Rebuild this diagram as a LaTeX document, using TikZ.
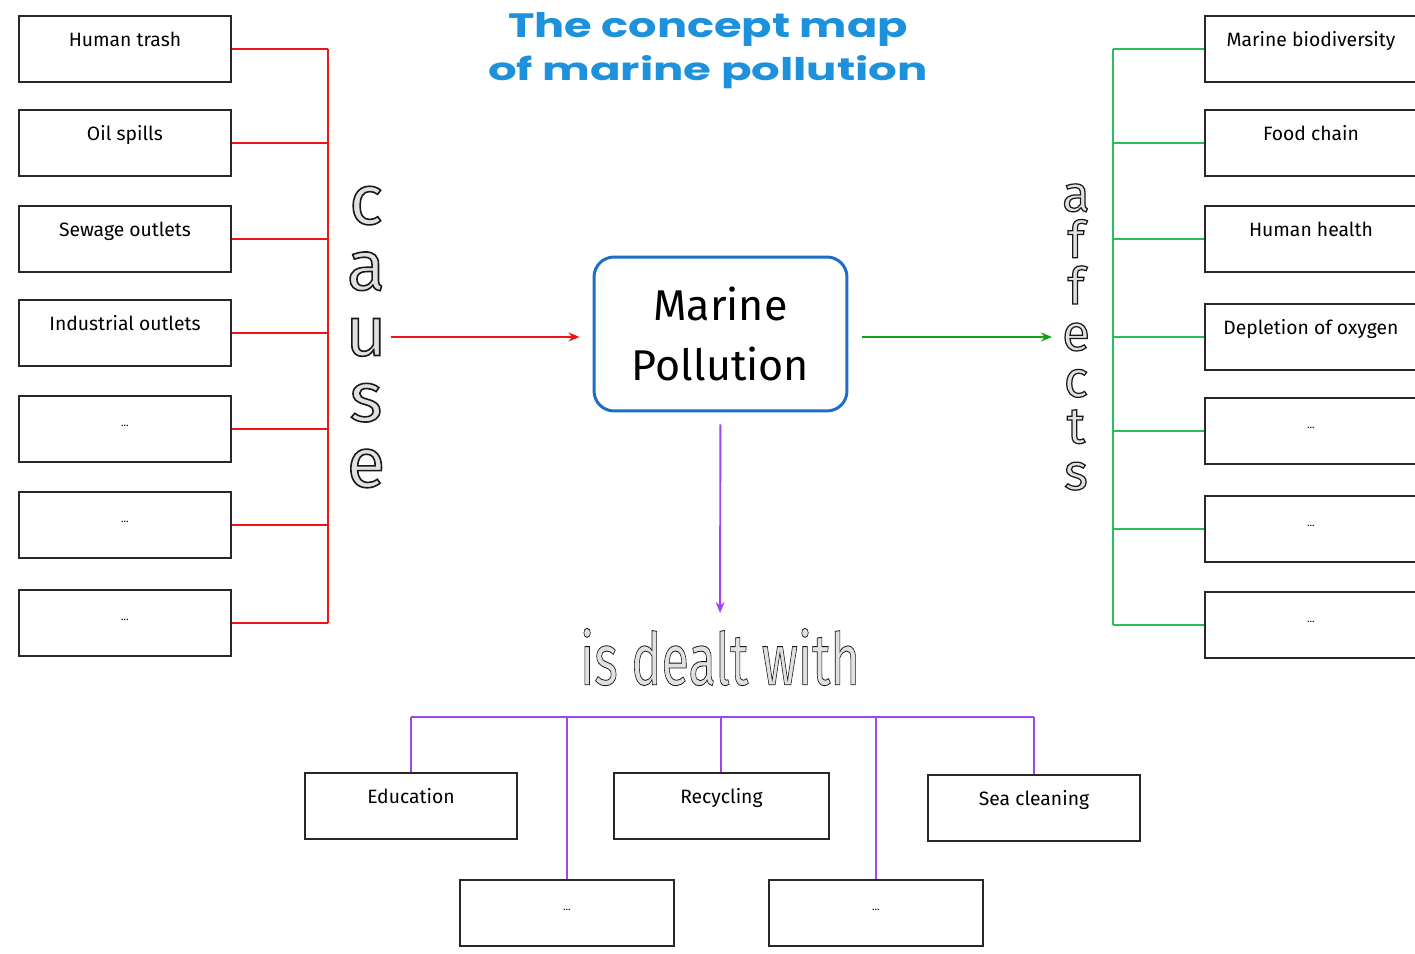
\documentclass[tikz,border=0pt]{standalone}
\usepackage{fontspec}
\usepackage{graphicx}
\setmainfont{Fira Sans}
\newfontfamily\titlefont{Poppins}
\usetikzlibrary{arrows.meta}
\definecolor{causered}{RGB}{240,20,20}
\definecolor{effgreen}{RGB}{40,190,90}
\definecolor{arrgreen}{RGB}{20,160,20}
\definecolor{dealpurple}{RGB}{160,70,240}
\definecolor{mainblue}{RGB}{30,110,200}
\definecolor{titleblue}{RGB}{30,145,220}
\definecolor{boxline}{RGB}{40,40,40}
\definecolor{hollowfill}{RGB}{225,225,225}
% hollow letters: light fill, dark outline
\newcommand{\outl}[2][0.7]{{\color{hollowfill}\special{pdf:literal direct 2 Tr #1 w 0.1 0.1 0.1 RG}#2\special{pdf:literal direct 0 Tr}}}
\begin{document}
\begin{tikzpicture}[x=0.02cm,y=-0.02cm,
  cbox/.style={draw=boxline, line width=1.1pt, minimum width=4.24cm, inner xsep=2pt, inner ysep=0pt,
    text height=0.62cm, text depth=0.70cm, font=\fontsize{11}{13}\selectfont, anchor=north west},
  ebox/.style={cbox, font=\fontsize{6}{7}\selectfont},
  redline/.style={draw=causered, line width=1.1pt},
  greenline/.style={draw=effgreen, line width=1.1pt},
  purpleline/.style={draw=dealpurple, line width=1.1pt},
  arrowtip/.style={-{Stealth[length=0.22cm,width=0.18cm]}},
  vert/.style={align=center, inner sep=1pt}
]
\useasboundingbox[fill=white] (0,0) rectangle (1415,953);

% title
\node[inner sep=0pt, text=titleblue, anchor=base] (t1) at (708,38) {\resizebox{8.0cm}{0.5cm}{\titlefont\bfseries The concept map}};
\node[inner sep=0pt, text=titleblue, anchor=base] (t2) at (708,80) {\resizebox{8.8cm}{0.5cm}{\titlefont\bfseries of marine pollution}};

% central node
\node[draw=mainblue, line width=1.7pt, rounded corners=0.4cm, minimum width=5.06cm, minimum height=3.08cm,
  align=center, font=\fontsize{24.5}{34.6}\selectfont] (mp) at (720.5,334) {Marine\\Pollution};

% cause boxes
\node[cbox] (l1) at (18,15) {Human trash};
\node[cbox] (l2) at (18,109) {Oil spills};
\node[cbox] (l3) at (18,205) {Sewage outlets};
\node[cbox] (l4) at (18,299) {Industrial outlets};
\node[ebox] (l5) at (18,395) {...};
\node[ebox] (l6) at (18,491) {...};
\node[ebox] (l7) at (18,589) {...};

% effect boxes
\node[cbox] (r1) at (1204,15) {Marine biodiversity};
\node[cbox] (r2) at (1204,109) {Food chain};
\node[cbox] (r3) at (1204,205) {Human health};
\node[cbox] (r4) at (1204,303) {Depletion of oxygen};
\node[ebox] (r5) at (1204,397) {...};
\node[ebox] (r6) at (1204,495) {...};
\node[ebox] (r7) at (1204,591) {...};

% dealt with boxes
\node[cbox] (b1) at (304,772) {Education};
\node[cbox, minimum width=4.3cm] (b2) at (613,772) {Recycling};
\node[cbox] (b3) at (927,774) {Sea cleaning};
\node[ebox, minimum width=4.28cm] (b4) at (459,879) {...};
\node[ebox, minimum width=4.28cm] (b5) at (768,879) {...};

% vertical words
\node[vert, font=\fontsize{40}{37.4}\selectfont] (cause) at (366,337)
  {\outl[0.9]{c}\\\outl[0.9]{a}\\\outl[0.9]{u}\\\outl[0.9]{s}\\\outl[0.9]{e}};
\node[vert, font=\fontsize{29}{26.4}\selectfont] (affects) at (1076,337)
  {\outl{a}\\\outl{f}\\\outl{f}\\\outl{e}\\\outl{c}\\\outl{t}\\\outl{s}};
\node[inner sep=0pt] (dealt) at (720,657) {\resizebox{5.6cm}{1.13cm}{\outl[0.35]{\fontsize{30}{32}\selectfont is dealt with}}};

% bus coordinates
\coordinate (lb) at (328,0);
\coordinate (rb) at (1113,0);
\coordinate (pb) at (720,717);

% cause connectors
\foreach \n in {l1,l2,l3,l4,l5,l6,l7} \draw[redline] (\n.east) -- (\n.east -| lb);
\draw[redline] (l1.east -| lb) -- (l7.east -| lb);
% effect connectors
\foreach \n in {r1,r2,r3,r4,r5,r6,r7} \draw[greenline] (\n.west) -- (\n.west -| rb);
\draw[greenline] (r1.west -| rb) -- (r7.west -| rb);
% dealt connectors
\draw[purpleline] (b1.north |- pb) -- (b3.north |- pb);
\foreach \n in {b1,b2,b3,b4,b5} \draw[purpleline] (\n.north |- pb) -- (\n.north);

% arrows
\draw[redline, arrowtip, shorten <=0.05cm, shorten >=0.26cm] (cause.east) -- (mp.west |- cause.east);
\draw[draw=arrgreen, line width=1.1pt, arrowtip, shorten <=0.28cm, shorten >=0.16cm] (mp.east |- affects.west) -- (affects.west);
\draw[purpleline, arrowtip, shorten <=0.24cm, shorten >=0.3cm] (mp) -- (dealt);
\end{tikzpicture}
\end{document}
